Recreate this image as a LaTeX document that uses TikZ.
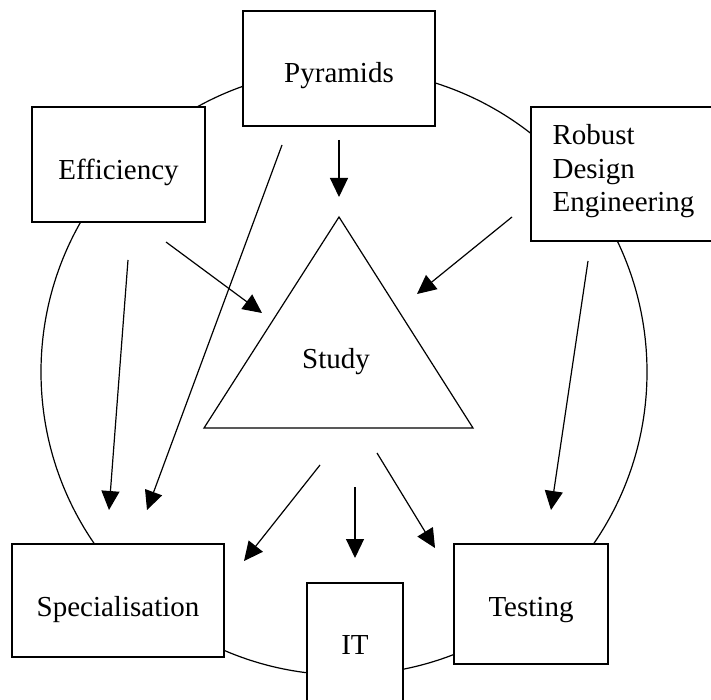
\documentclass[tikz,border=0pt]{standalone}
\usepackage{fontspec}
\setmainfont{Liberation Serif}
\usetikzlibrary{arrows.meta}
\begin{document}
\begin{tikzpicture}[x=1pt,y=-1pt,line width=1.2pt,
  box/.style={draw, fill=white, rectangle, inner sep=0pt},
  lbl/.style={font=\fontsize{29}{33.5}\selectfont, inner sep=0pt, anchor=base},
  lblw/.style={font=\fontsize{29}{33.5}\selectfont, inner sep=0pt, anchor=base west},
  arr/.style={-{Triangle[length=19pt,width=18pt]}}]
\useasboundingbox (0,0) rectangle (711,700);
\clip (0,0) rectangle (711,700);
% ring
\node[draw, circle, minimum size=606pt, inner sep=0pt] (ring) at (344,372) {};
% boxes
\node[box, minimum width=192pt, minimum height=115pt] (pyr) at (339,68.5) {};
\node[lbl] (pyrt) at (339,83) {Pyramids};
\node[box, minimum width=173pt, minimum height=115pt] (eff) at (118.5,164.5) {};
\node[lbl] (efft) at (118.5,180) {Efficiency};
\node[box, minimum width=182pt, minimum height=134pt] (rob) at (622,174) {};
\node[lblw] (rob1) at (552,145) {Robust};
\node[lblw] (rob2) at (552,178.5) {Design};
\node[lblw] (rob3) at (552,212) {Engineering};
\node[box, minimum width=212pt, minimum height=113pt] (spec) at (118,600.5) {};
\node[lbl] (spect) at (118,616) {Specialisation};
\node[box, minimum width=154pt, minimum height=120pt] (test) at (531,604) {};
\node[lbl] (testt) at (531,616) {Testing};
\node[box, minimum width=96pt, minimum height=124pt] (it) at (355,645) {};
\node[lbl] (itt) at (355,654) {IT};
% triangle
\coordinate (tA) at (339,217);
\coordinate (tL) at (204,428);
\coordinate (tR) at (473,428);
\draw (tA) -- (tL) -- (tR) -- cycle;
\node[lbl] (study) at (336,368) {Study};
% arrow ends
\coordinate (a1s) at (339,140); \coordinate (a1e) at (339,197);
\coordinate (a2s) at (282,145); \coordinate (a2e) at (147,510);
\coordinate (a3s) at (166,242); \coordinate (a3e) at (262,313);
\coordinate (a4s) at (128,260); \coordinate (a4e) at (109,510);
\coordinate (a5s) at (512,217); \coordinate (a5e) at (417,294);
\coordinate (a6s) at (588,261); \coordinate (a6e) at (551,510);
\coordinate (a7s) at (320,465); \coordinate (a7e) at (244,561);
\coordinate (a8s) at (355,487); \coordinate (a8e) at (355,558);
\coordinate (a9s) at (377,453); \coordinate (a9e) at (435,548);
\foreach \i in {1,...,9} {\draw[arr] (a\i s) -- (a\i e);}
\end{tikzpicture}
\end{document}
